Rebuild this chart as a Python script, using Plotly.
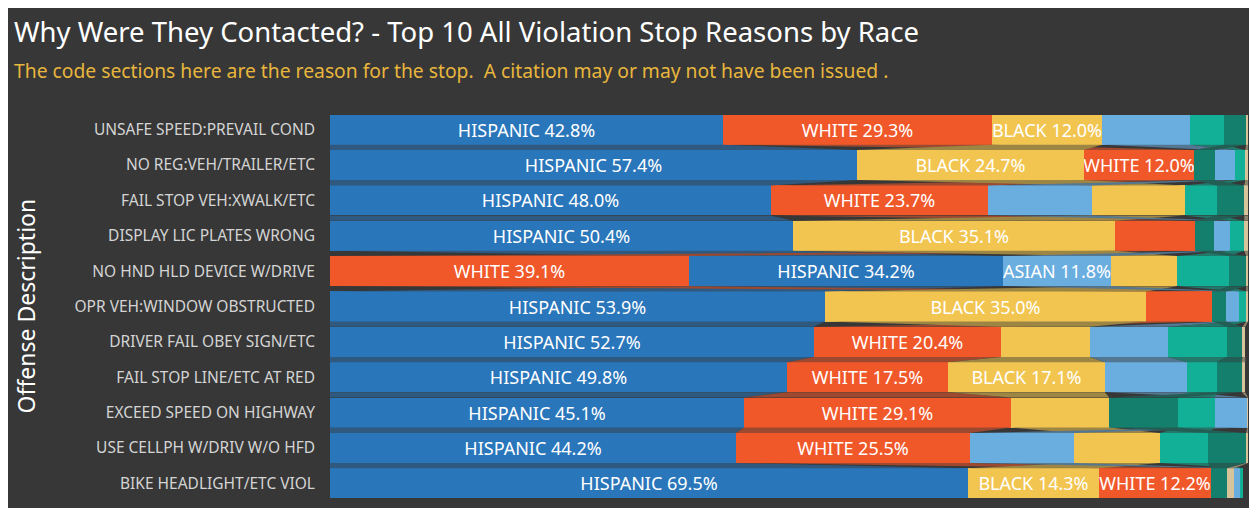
import plotly.graph_objects as go

categories = [
    "UNSAFE SPEED:PREVAIL COND",
    "NO REG:VEH/TRAILER/ETC",
    "FAIL STOP VEH:XWALK/ETC",
    "DISPLAY LIC PLATES WRONG",
    "NO HND HLD DEVICE W/DRIVE",
    "OPR VEH:WINDOW OBSTRUCTED",
    "DRIVER FAIL OBEY SIGN/ETC",
    "FAIL STOP LINE/ETC AT RED",
    "EXCEED SPEED ON HIGHWAY",
    "USE CELLPH W/DRIV W/O HFD",
    "BIKE HEADLIGHT/ETC VIOL",
]

races = ["HISPANIC", "WHITE", "BLACK", "ASIAN", "OTHER", "MIDDLE EASTERN", "NATIVE AMERICAN"]

hispanic = [42.8, 57.4, 48.0, 50.4, 34.2, 53.9, 52.7, 49.8, 45.1, 44.2, 69.5]
white    = [29.3, 12.0, 23.7, 8.7, 39.1, 7.2, 20.4, 17.5, 29.1, 25.5, 12.2]
black    = [12.0, 24.7, 10.1, 35.1, 7.2, 35.0, 9.7, 17.1, 10.7, 9.4, 14.3]
asian    = [9.6, 2.2, 11.3, 1.7, 11.8, 1.4, 8.5, 9.0, 3.5, 11.3, 0.6]
other    = [3.7, 1.1, 3.5, 1.6, 5.6, 0.8, 6.4, 3.2, 4.0, 5.2, 0.4]
mideast  = [2.4, 2.3, 3.0, 2.1, 1.9, 1.5, 1.7, 2.7, 7.5, 4.2, 1.7]
native   = [0.2, 0.3, 0.4, 0.4, 0.2, 0.2, 0.3, 0.4, 0.1, 0.2, 0.8]

series = [hispanic, white, black, asian, other, mideast, native]
colors = ["#2A76BB", "#F0582A", "#F2C550", "#6AADDF", "#12B097", "#137F6C", "#D8C49A"]

BG = "#373737"
LABEL_MIN = 11.5
BAR_W = 0.85

n = len(categories)
# ribbon ordering: largest segment on the left of each row
bases = [[0.0] * n for _ in races]
for i in range(n):
    order = sorted(range(len(races)), key=lambda k: -series[k][i])
    acc = 0.0
    for k in order:
        bases[k][i] = acc
        acc += series[k][i]


def darken(hexc, a=0.55):
    h = hexc.lstrip("#")
    r, g, b = int(h[0:2], 16), int(h[2:4], 16), int(h[4:6], 16)
    br, bg_, bb = 0x37, 0x37, 0x37
    return "rgb(%d,%d,%d)" % (a * r + (1 - a) * br, a * g + (1 - a) * bg_, a * b + (1 - a) * bb)


fig = go.Figure()

# ribbons connecting rows
for k, race in enumerate(races):
    xs, ys = [], []
    for i in range(n - 1):
        l0, r0 = bases[k][i], bases[k][i] + series[k][i]
        l1, r1 = bases[k][i + 1], bases[k][i + 1] + series[k][i + 1]
        yb = i + BAR_W / 2
        yt = i + 1 - BAR_W / 2
        xs += [l0, r0, r1, l1, l0, None]
        ys += [yb, yb, yt, yt, yb, None]
    fig.add_trace(go.Scatter(
        x=xs, y=ys, mode="lines", fill="toself",
        fillcolor=darken(colors[k]), line=dict(width=0),
        hoverinfo="skip", showlegend=False,
    ))

for k, race in enumerate(races):
    texts = [f"{race} {v:.1f}%" if v >= LABEL_MIN else "" for v in series[k]]
    fig.add_trace(go.Bar(
        y=list(range(n)), x=series[k], base=bases[k], orientation="h",
        name=race, marker=dict(color=colors[k], line=dict(width=0)),
        width=BAR_W, text=texts, textposition="inside",
        insidetextanchor="middle", constraintext="none",
        textfont=dict(family="Noto Sans", size=18, color="white"),
        hoverinfo="skip", showlegend=False,
    ))

W, H = 1241, 500
ML, MT = 322, 104
PW = 918
PH = 389
MR = W - ML - PW
MB = H - MT - PH

fig.update_layout(
    width=W, height=H,
    margin=dict(l=ML, r=MR, t=MT, b=MB),
    paper_bgcolor=BG, plot_bgcolor=BG,
    barmode="overlay", bargap=0,
    showlegend=False,
    font=dict(family="Noto Sans", color="#D8D8D8"),
    xaxis=dict(range=[0, 100], visible=False, fixedrange=True),
    yaxis=dict(
        range=[n - 0.5, -0.5], tickmode="array",
        tickvals=list(range(n)), ticktext=categories,
        showgrid=False, zeroline=False, showline=False,
        ticks="", ticklabelstandoff=14,
        tickfont=dict(family="Noto Sans", size=15.5, color="#D4D4D4"),
    ),
    annotations=[
        dict(text="Why Were They Contacted? - Top 10 All Violation Stop Reasons by Race",
             xref="paper", yref="paper", x=(4 - ML) / PW, y=1 + (MT - 24) / PH,
             xanchor="left", yanchor="middle", showarrow=False,
             font=dict(family="Noto Sans", size=27.5, color="#FFFFFF")),
        dict(text="The code sections here are the reason for the stop.  A citation may or may not have been issued .",
             xref="paper", yref="paper", x=(4 - ML) / PW, y=1 + (MT - 63) / PH,
             xanchor="left", yanchor="middle", showarrow=False,
             font=dict(family="Noto Sans", size=19.3, color="#E8B63C")),
        dict(text="Offense Description", textangle=-90,
             xref="paper", yref="paper", x=(17 - ML) / PW, y=0.5,
             xanchor="center", yanchor="middle", showarrow=False,
             font=dict(family="Noto Sans", size=23, color="#FFFFFF")),
    ],
)

fig.write_html(
    "out.html",
    post_script=(
        "document.documentElement.style.overflow='hidden';"
        "document.body.style.overflow='hidden';"
        "document.body.style.margin='8px 0 0 8px';"
    ),
)
